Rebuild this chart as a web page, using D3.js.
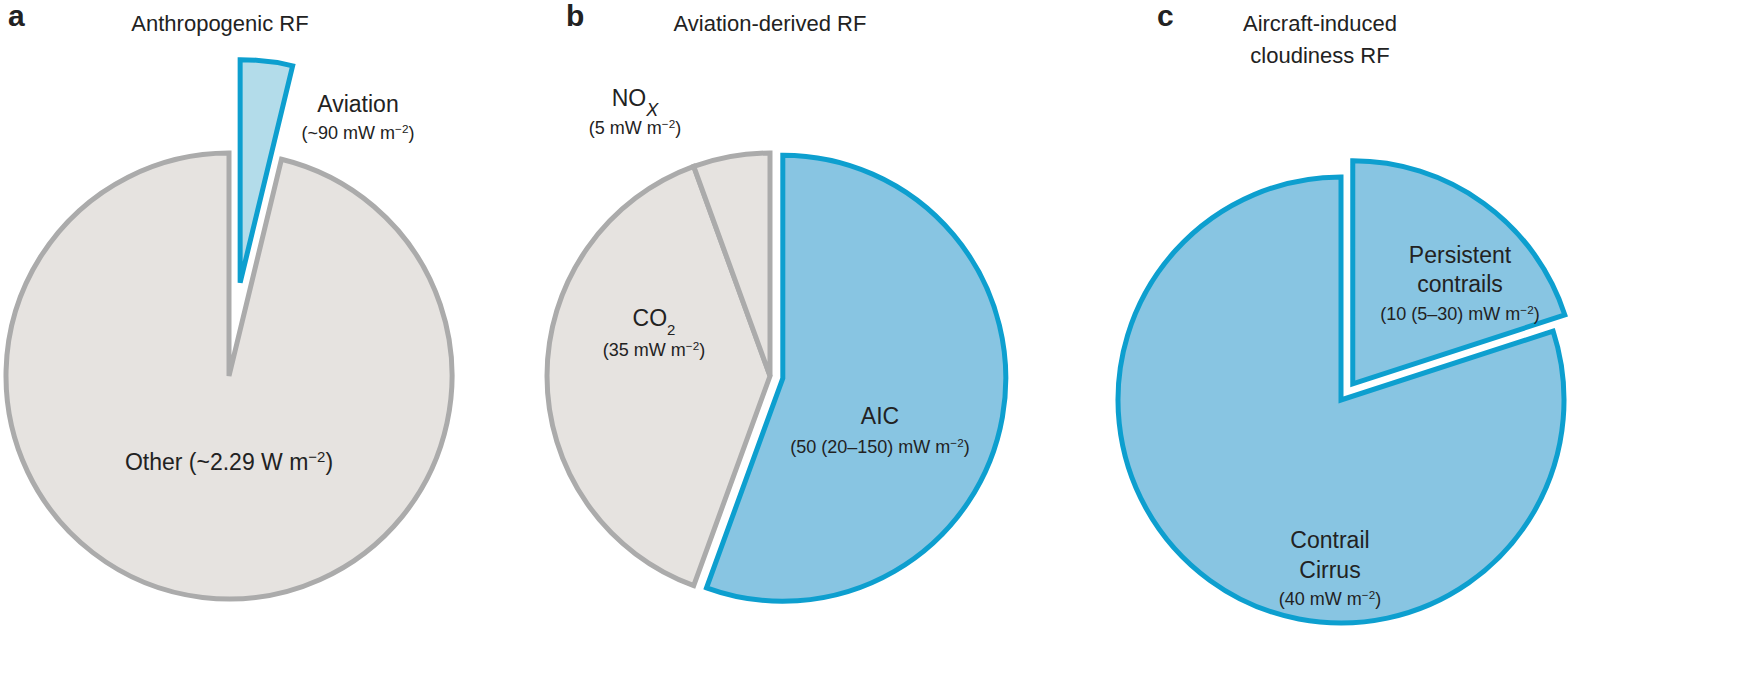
<!DOCTYPE html>
<html><head><meta charset="utf-8">
<script src="https://cdn.jsdelivr.net/npm/d3@7"></script>
<style>body{margin:0;background:#fff}text{font-family:"Liberation Sans",Arial,sans-serif;fill:#222}</style>
</head><body><svg id="c" width="1763" height="688"></svg>
<script>
// values in mW m-2
const panelA = [{name: 'Aviation', value: 90, hi: true, light: true}, {name: 'Other', value: 2290}];
const panelB = [{name: 'AIC', value: 50, hi: true}, {name: 'CO2', value: 35}, {name: 'NOx', value: 5}];
const panelC = [{name: 'Persistent contrails', value: 10, hi: true}, {name: 'Contrail Cirrus', value: 40, hi: true}];

const svg = d3.select('#c');
const R = 223;

function drawPie(data, cx, cy, explode, explodeDist) {
  const pie = d3.pie().sort(null).value(d => d.value);
  const arc = d3.arc().innerRadius(0).outerRadius(R);
  const g = svg.append('g').attr('transform', `translate(${cx},${cy})`);
  pie(data).forEach(a => {
    const mid = (a.startAngle + a.endAngle) / 2;
    const k = a.data.name === explode ? explodeDist : 0;
    g.append('path')
      .attr('d', arc(a))
      .attr('transform', `translate(${Math.sin(mid) * k},${-Math.cos(mid) * k})`)
      .attr('fill', a.data.light ? '#b3dcea' : a.data.hi ? '#88c5e2' : '#e6e3e0')
      .attr('stroke', a.data.hi ? '#0d9fcf' : '#ababab')
      .attr('stroke-width', 5)
      .attr('stroke-linejoin', 'miter');
  });
}

drawPie(panelA, 229, 376, 'Aviation', 94);
drawPie(panelB, 770, 376, 'AIC', 13);
drawPie(panelC, 1341, 400, 'Persistent contrails', 20);

function label(x, y, size, parts) {
  const t = svg.append('text').attr('x', x).attr('y', y).attr('text-anchor', 'middle').attr('font-size', size);
  parts.forEach(p => {
    if (typeof p === 'string') t.append('tspan').text(p);
    else t.append('tspan').attr('baseline-shift', p.shift).attr('font-size', size * 0.65)
      .attr('font-style', p.italic ? 'italic' : null).text(p.t);
  });
}
const unit = (pre, post = ')') => [pre + ' m', {t: '−2', shift: 'super'}, post];

// panel letters and titles
[['a', 8], ['b', 566], ['c', 1157]].forEach(([l, x]) =>
  svg.append('text').attr('x', x).attr('y', 26).attr('font-size', 30).attr('font-weight', 'bold').text(l));
label(220, 31, 22, ['Anthropogenic RF']);
label(770, 31, 22, ['Aviation-derived RF']);
label(1320, 31, 22, ['Aircraft-induced']);
label(1320, 63, 22, ['cloudiness RF']);

label(358, 112, 23, ['Aviation']);
label(358, 139, 18, unit('(~90 mW'));
label(229, 470, 23, unit('Other (~2.29 W'));

svg.append('text').attr('x', 635).attr('y', 106).attr('text-anchor', 'middle').attr('font-size', 23)
  .call(t => { t.append('tspan').text('NO'); t.append('tspan').attr('baseline-shift', 'sub').attr('font-style', 'italic').attr('font-size', 18).text('X'); });
label(635, 134, 18, unit('(5 mW'));
label(654, 326, 23, ['CO', {t: '2', shift: 'sub'}]);
label(654, 356, 18, unit('(35 mW'));
label(880, 424, 23, ['AIC']);
label(880, 453, 18, unit('(50 (20–150) mW'));

label(1460, 263, 23, ['Persistent']);
label(1460, 292, 23, ['contrails']);
label(1460, 320, 18, unit('(10 (5–30) mW'));
label(1330, 548, 23, ['Contrail']);
label(1330, 578, 23, ['Cirrus']);
label(1330, 605, 18, unit('(40 mW'));
</script></body></html>
